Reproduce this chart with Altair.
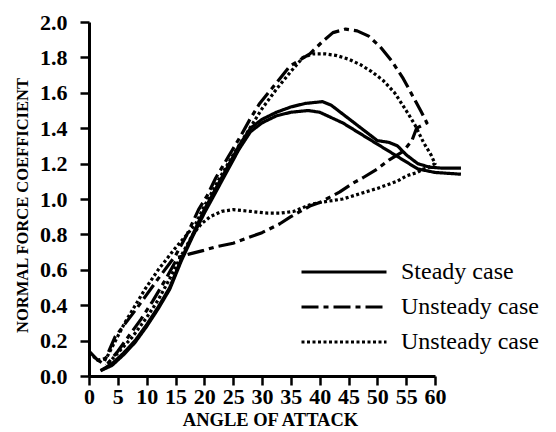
import altair as alt
import pandas as pd

# ---- data ----
steady_a_x = [2, 4, 6, 8, 10, 12, 14, 16, 18, 20, 22, 24, 26, 28, 30, 32.5, 35, 37.5, 40.5, 42, 44, 46, 48, 50, 52, 53.5, 55, 57, 59, 61, 64.5]
steady_a_y = [0.03, 0.07, 0.13, 0.2, 0.29, 0.39, 0.5, 0.66, 0.8, 0.94, 1.06, 1.18, 1.3, 1.4, 1.45, 1.49, 1.52, 1.54, 1.55, 1.53, 1.48, 1.43, 1.38, 1.33, 1.32, 1.3, 1.25, 1.2, 1.18, 1.175, 1.175]

steady_b_x = [2, 4, 6, 8, 10, 12, 14, 16, 18, 20, 22, 24, 26, 28, 30, 32.5, 35, 38, 40, 42, 44, 46, 48, 50, 52, 54.5, 57, 60, 64.5]
steady_b_y = [0.03, 0.06, 0.12, 0.19, 0.28, 0.38, 0.49, 0.65, 0.79, 0.92, 1.04, 1.16, 1.28, 1.38, 1.43, 1.47, 1.49, 1.5, 1.49, 1.46, 1.43, 1.39, 1.35, 1.31, 1.27, 1.22, 1.17, 1.15, 1.14]

# unsteady case (long dash - short dash): pitch-up branch then return branch
unsteady1_x = [0, 1.5, 2.5, 4.5, 8, 10, 12, 15, 17, 19, 20.5, 22, 24, 26.2, 27.9, 29.6, 32.6, 34.8, 38.3, 40.5, 42.3, 44.5, 46.5, 48.5, 50.5, 52.5, 54.5, 56.5, 57.5, 58.6,
               56.8, 56, 54.5, 52, 50, 47.5, 45.8, 43.5, 40, 38.3, 35, 33.1, 30, 27.5, 25, 22, 19.9, 17.5, 15.4, 13, 11, 9, 7, 5, 3]
unsteady1_y = [0.14, 0.09, 0.07, 0.22, 0.37, 0.46, 0.55, 0.68, 0.8, 0.94, 1.02, 1.12, 1.23, 1.35, 1.45, 1.54, 1.66, 1.75, 1.82, 1.89, 1.94, 1.96, 1.95, 1.92, 1.86, 1.78, 1.68, 1.56, 1.5, 1.43,
               1.40, 1.33, 1.27, 1.22, 1.17, 1.12, 1.09, 1.04, 0.98, 0.96, 0.90, 0.86, 0.81, 0.78, 0.75, 0.73, 0.71, 0.69, 0.67, 0.53, 0.42, 0.32, 0.23, 0.14, 0.06]

# unsteady case (dashed / dotted): pitch-up branch then return branch
unsteady2_x = [0, 1.5, 3, 6.2, 9.7, 12, 14.9, 17, 18.5, 20, 22.5, 25, 27.5, 30, 32.5, 35, 37.1, 38.8, 41, 43, 45, 47, 49, 51, 53, 55, 56.5, 58, 59.3, 60,
               59, 58, 56.9, 55, 53.4, 50, 47, 44, 40, 38.5, 35.5, 33.1, 31, 28, 25, 23, 21, 19.5, 18, 16, 14, 12, 10, 7.5, 5, 3]
unsteady2_y = [0.13, 0.09, 0.1, 0.3, 0.49, 0.6, 0.72, 0.8, 0.86, 0.96, 1.11, 1.25, 1.38, 1.51, 1.62, 1.72, 1.8, 1.82, 1.82, 1.81, 1.79, 1.76, 1.72, 1.67, 1.6, 1.5, 1.42, 1.32, 1.25, 1.2,
               1.18, 1.17, 1.15, 1.13, 1.1, 1.06, 1.03, 1.0, 0.98, 0.97, 0.93, 0.92, 0.92, 0.93, 0.94, 0.93, 0.9, 0.86, 0.8, 0.68, 0.55, 0.43, 0.33, 0.22, 0.13, 0.06]

series_names = ["Steady case", "Unsteady case (a)", "Unsteady case (b)"]
x_ticks = list(range(0, 61, 5))
y_ticks = [0.0, 0.2, 0.4, 0.6, 0.8, 1.0, 1.2, 1.4, 1.6, 1.8, 2.0]

rows = []
for name, line, xs, ys in [
    (series_names[0], "steady_a", steady_a_x, steady_a_y),
    (series_names[0], "steady_b", steady_b_x, steady_b_y),
    (series_names[1], "unsteady_1", unsteady1_x, unsteady1_y),
    (series_names[2], "unsteady_2", unsteady2_x, unsteady2_y),
]:
    for i, (xv, yv) in enumerate(zip(xs, ys)):
        rows.append({"series": name, "line": line, "idx": i, "angle": xv, "cn": yv})
df = pd.DataFrame(rows)

serif = "Liberation Serif"

chart = alt.Chart(df).mark_line(strokeWidth=3.2, strokeJoin="round", color="black").encode(
    x=alt.X("angle:Q",
            scale=alt.Scale(domain=[0, 60], nice=False, zero=False),
            axis=alt.Axis(values=x_ticks, title="ANGLE OF ATTACK", labelPadding=1,
                          labelOverlap=False, labelFlush=False,
                          titleFontSize=18.5,
                          titleX=181, titleY=43, titleBaseline="middle", titleAnchor="middle")),
    y=alt.Y("cn:Q",
            scale=alt.Scale(domain=[0, 2], nice=False),
            axis=alt.Axis(values=y_ticks, format=".1f", title="NORMAL FORCE COEFFICIENT", labelPadding=13,
                          labelOverlap=False, labelFlush=False,
                          titleFontSize=16.5,
                          titleX=-67, titleY=183, titleBaseline="middle", titleAngle=-90)),
    strokeDash=alt.StrokeDash("series:N",
                              scale=alt.Scale(domain=series_names, range=[[1, 0], [17, 5, 5, 5], [3, 2.5]]),
                              legend=alt.Legend(title=None, orient="none", legendX=211, legendY=234,
                                                symbolType="stroke", symbolSize=7225, symbolStrokeWidth=2.8,
                                                symbolStrokeColor="black", clipHeight=32, rowPadding=3,
                                                labelOffset=13, labelFont=serif, labelFontSize=24,
                                                labelColor="black", padding=0,
                                                labelExpr="slice(datum.label, 0, 13)")),
    detail="line:N",
    order="idx:Q",
).properties(
    width=346, height=354, autosize="none",
    padding={"left": 89, "top": 22, "right": 121, "bottom": 56},
).configure_view(stroke=None).configure_axis(
    grid=False, labelFont=serif, labelFontSize=22, labelFontWeight="bold", labelColor="black",
    titleFont=serif, titleFontWeight="bold", titleColor="black",
    domainColor="black", domainWidth=3, tickColor="black", tickWidth=2.5, tickSize=9,
)

chart.save("out.html", embed_options={"renderer": "svg", "actions": False})
